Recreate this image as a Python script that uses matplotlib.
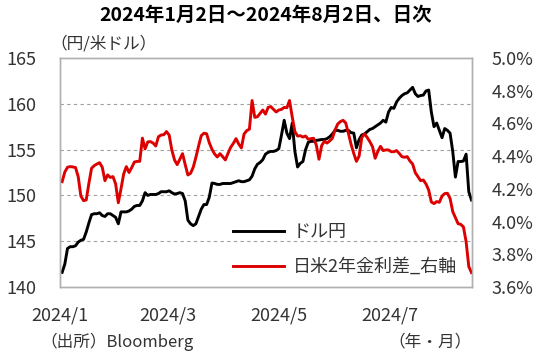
import matplotlib
matplotlib.use('Agg')
import matplotlib.pyplot as plt

plt.rcParams['font.family'] = ['Noto Sans CJK JP', 'DejaVu Sans']

# daily values (trading-day index 0..153)
usdjpy = [141.6, 142.5, 144.2, 144.4, 144.4, 144.5, 144.9, 145.1, 145.2, 146.0,
          147.0, 147.9, 148.0, 148.0, 148.1, 147.8, 147.7, 148.0, 148.0, 147.8,
          147.6, 146.9, 148.2, 148.2, 148.2, 148.3, 148.5, 148.8, 148.9, 148.9,
          149.4, 150.3, 150.0, 150.1, 150.1, 150.1, 150.2, 150.4, 150.4, 150.4,
          150.5, 150.3, 150.15, 150.2, 150.3, 150.2, 149.4, 147.3, 146.9, 146.7,
          146.9, 147.7, 148.5, 149.0, 149.0, 149.8, 151.35, 151.3, 151.2, 151.2,
          151.3, 151.3, 151.3, 151.3, 151.4, 151.5, 151.6, 151.5, 151.5, 151.6,
          151.7, 152.1, 152.9, 153.4, 153.6, 153.9, 154.5, 154.7, 154.8, 154.8,
          154.9, 155.1, 156.6, 158.2, 156.8, 156.2, 157.9, 154.8, 153.1, 153.5,
          153.7, 155.0, 155.8, 155.9, 155.9, 156.0, 156.05, 156.1, 156.1, 156.2,
          156.4, 156.7, 157.1, 157.1, 157.0, 157.0, 157.1, 157.1, 156.85, 156.8,
          155.2, 156.1, 156.6, 156.7, 156.95, 157.2, 157.3, 157.5, 157.7, 157.9,
          158.2, 158.0, 159.1, 159.6, 159.5, 160.2, 160.6, 160.9, 161.1, 161.2,
          161.5, 161.8, 161.1, 160.8, 160.9, 160.95, 161.4, 161.5, 159.1, 157.5,
          157.9, 157.1, 156.3, 157.3, 157.1, 156.8, 154.8, 152.0, 153.7, 153.7,
          153.75, 154.5, 150.4, 149.5]

spread = [4.244, 4.303, 4.332, 4.336, 4.334, 4.330, 4.275, 4.156, 4.128, 4.132,
          4.234, 4.326, 4.342, 4.352, 4.360, 4.332, 4.25, 4.285, 4.270, 4.275,
          4.23, 4.115, 4.20, 4.291, 4.336, 4.30, 4.33, 4.364, 4.368, 4.368,
          4.51, 4.444, 4.487, 4.489, 4.48, 4.462, 4.519, 4.529, 4.531, 4.550,
          4.529, 4.438, 4.377, 4.348, 4.381, 4.415, 4.348, 4.285, 4.295, 4.332,
          4.393, 4.462, 4.525, 4.540, 4.537, 4.482, 4.442, 4.413, 4.395, 4.415,
          4.397, 4.377, 4.417, 4.454, 4.478, 4.507, 4.474, 4.45, 4.535, 4.556,
          4.565, 4.74, 4.637, 4.641, 4.662, 4.682, 4.657, 4.698, 4.703, 4.686,
          4.670, 4.682, 4.686, 4.698, 4.696, 4.74, 4.64, 4.550, 4.523, 4.525,
          4.517, 4.523, 4.503, 4.507, 4.509, 4.468, 4.381, 4.464, 4.491, 4.480,
          4.493, 4.509, 4.560, 4.596, 4.611, 4.619, 4.603, 4.540, 4.472, 4.417,
          4.368, 4.40, 4.513, 4.536, 4.515, 4.489, 4.458, 4.387, 4.429, 4.460,
          4.434, 4.438, 4.438, 4.427, 4.427, 4.434, 4.417, 4.397, 4.393, 4.397,
          4.370, 4.352, 4.299, 4.275, 4.250, 4.254, 4.230, 4.193, 4.120, 4.110,
          4.122, 4.118, 4.156, 4.171, 4.173, 4.142, 4.061, 4.024, 3.987, 3.983,
          3.967, 3.877, 3.725, 3.688]

x_tick_pos = [-0.8, 39.7, 81.2, 122.6]
x_tick_labels = ['2024/1', '2024/3', '2024/5', '2024/7']
left_ticks = [140, 145, 150, 155, 160, 165]
right_ticks = [3.6, 3.8, 4.0, 4.2, 4.4, 4.6, 4.8, 5.0]

days = list(range(len(usdjpy)))
grey = '#b0b0b0'
txt = '#333333'

fig = plt.figure(figsize=(5.5, 3.63), dpi=100)
ax = fig.add_axes([60/550, 1-287/363, 412/550, 229/363])
ax2 = ax.twinx()

l1, = ax.plot(days, usdjpy, color='black', linewidth=2.1, label='ドル円')
l2, = ax2.plot(days, spread, color='#dd0000', linewidth=2.1, label='日米2年金利差_右軸')

ax.set_xlim(-0.2, 153.2)
ax.set_ylim(140, 165)
ax2.set_ylim(3.6, 5.0)
ax.set_yticks(left_ticks)
ax2.set_yticks(right_ticks)
ax2.set_yticklabels(['%.1f%%' % t for t in right_ticks])
ax.set_xticks(x_tick_pos)
ax.set_xticklabels(x_tick_labels)

for t in [145, 150, 155, 160]:
    ax.axhline(t, color='#a0a0a0', linewidth=0.8, linestyle=(0, (3, 3)), zorder=0)

ax.tick_params(axis='both', length=0, labelsize=13, colors=txt)
ax.tick_params(axis='x', pad=14)
ax.tick_params(axis='y', pad=17)
ax2.tick_params(axis='y', length=0, labelsize=13, colors=txt, pad=14)
for a in (ax, ax2):
    for s in a.spines.values():
        s.set_color(grey)
        s.set_linewidth(1.0)

ax.legend(handles=[l1, l2], loc='upper left', bbox_to_anchor=(0.42, 0.28),
          frameon=False, fontsize=13, handlelength=2.8, handletextpad=0.5,
          labelspacing=0.95, borderpad=0, borderaxespad=0, labelcolor=txt)

fig.text(266/550, 1-15/363, '2024年1月2日～2024年8月2日、日次', ha='center', va='center',
         fontsize=14, fontweight='bold')
fig.text(50/550, 1-44/363, '（円/米ドル）', ha='left', va='center', fontsize=12, color=txt)
fig.text(40/550, 1-342/363, '（出所）Bloomberg', ha='left', va='center', fontsize=12, color=txt)
fig.text(388/550, 1-342/363, '（年・月）', ha='left', va='center', fontsize=12, color=txt)

plt.savefig('out.png', dpi=100)
